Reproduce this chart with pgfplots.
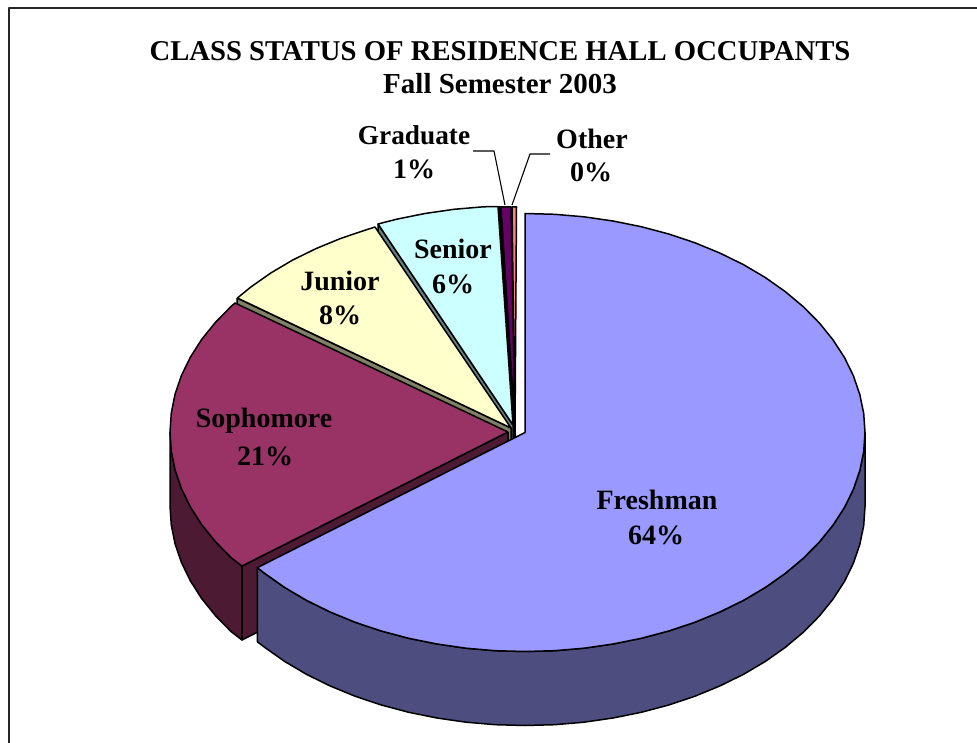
\documentclass[border=0pt]{standalone}
\usepackage{pgfplots}
\pgfplotsset{compat=1.18}
\usepackage{fontspec}
\setmainfont{Liberation Serif}
\definecolor{fresh}{HTML}{9999FF}\definecolor{freshS}{HTML}{4D4D80}
\definecolor{soph}{HTML}{993366}\definecolor{sophS}{HTML}{4D1A33}
\definecolor{jun}{HTML}{FFFFCC}\definecolor{junS}{HTML}{808066}
\definecolor{sen}{HTML}{CCFFFF}\definecolor{senS}{HTML}{668080}
\definecolor{grad}{HTML}{660066}\definecolor{oth}{HTML}{FF8080}
\newcommand{\lab}[1]{\fontsize{28}{32}\selectfont\bfseries #1}
\begin{document}
\begin{tikzpicture}
\begin{axis}[
  scale only axis, width=977pt, height=743pt,
  xmin=0, xmax=977, ymin=0, ymax=743, y dir=reverse,
  axis lines=none, no marks,
  every axis plot/.append style={line width=1.5pt, draw=black, line join=round, solid},
]
\path (axis cs:0,0) -- (axis cs:977,743);
% frame
\addplot[draw=black!85, line width=1.8pt] coordinates {(9,743)(9,8)(977,8)};
% Other
\addplot[fill=oth] coordinates {(515,430)(512,207)(516.5,207)(515,430)};
% Graduate side and top
\addplot[fill=black] coordinates {(498,207)(501,207)(515,426)(515.5,441)(511,441)(498,207)};
\addplot[fill=grad] coordinates {(515,428)(501,207)(506,207)(511,207)(515,428)};
% Senior
\addplot[fill=senS] coordinates {(378,224)(513,425)(513,499)(378,298)(378,224)};
\addplot[fill=sen] coordinates {(513,425)(378,224)(396.7,219.2)(425,213.5)(454,209.3)(483.4,206.8)(498,206.5)(513,425)};
% Junior
\addplot[fill=junS] coordinates {(237,298)(511,428)(511,502)(237,372)(237,298)};
\addplot[fill=jun] coordinates {(511,428)(375,227)(367.3,229.5)(341,238.3)(316,248.6)(292.4,260.2)(270.6,273.1)(250.6,287.2)(237.4,298)(511,428)};
% Sophomore
\addplot[fill=sophS] coordinates {(170,432)(171.3,451.1)(175.1,470)(181.5,488.7)(190.4,506.9)(201.7,524.6)(215.3,541.5)(231.1,557.6)(242,566)(242,640)(231.1,631.6)(215.3,615.5)(201.7,598.6)(190.4,580.9)(181.5,562.7)(175.1,544)(171.3,525.1)(170,506)(170,432)};
\addplot[fill=sophS] coordinates {(508,432)(242,566)(242,640)(508,506)(508,432)};
\addplot[fill=soph] coordinates {(508,432)(235,303)(231.1,306.4)(215.3,322.5)(201.7,339.4)(190.4,357.1)(181.5,375.3)(175.1,394)(171.3,412.9)(170,432)(171.3,451.1)(175.1,470)(181.5,488.7)(190.4,506.9)(201.7,524.6)(215.3,541.5)(231.1,557.6)(242,566)(508,432)};
% Freshman
\addplot[fill=freshS] coordinates {(865,432.5)(863.7,451.6)(859.8,470.5)(853.4,489.2)(844.5,507.4)(833.1,525)(819.4,542)(803.5,558.1)(785.4,573.3)(765.4,587.4)(743.6,600.3)(720,611.9)(695,622.2)(668.7,631)(641.3,638.3)(613,644)(584,648.2)(554.6,650.7)(525,651.5)(495.4,650.7)(466,648.2)(437,644)(408.7,638.3)(381.3,631)(355,622.2)(330,611.9)(306.4,600.3)(284.6,587.4)(264.6,573.3)(257.3,567.7)(257.3,641.7)(264.6,647.3)(284.6,661.4)(306.4,674.3)(330,685.9)(355,696.2)(381.3,705)(408.7,712.3)(437,718)(466,722.2)(495.4,724.7)(525,725.5)(554.6,724.7)(584,722.2)(613,718)(641.3,712.3)(668.7,705)(695,696.2)(720,685.9)(743.6,674.3)(765.4,661.4)(785.4,647.3)(803.5,632.1)(819.4,616)(833.1,599)(844.5,581.4)(853.4,563.2)(859.8,544.5)(863.7,525.6)(865,506.5)(865,432.5)};
\addplot[fill=fresh] coordinates {(525,432.5)(525,213.5)(554.6,214.3)(584,216.8)(613,221)(641.3,226.7)(668.7,234)(695,242.8)(720,253.1)(743.6,264.7)(765.4,277.6)(785.4,291.7)(803.5,306.9)(819.4,323)(833.1,340)(844.5,357.6)(853.4,375.8)(859.8,394.5)(863.7,413.4)(865,432.5)(863.7,451.6)(859.8,470.5)(853.4,489.2)(844.5,507.4)(833.1,525)(819.4,542)(803.5,558.1)(785.4,573.3)(765.4,587.4)(743.6,600.3)(720,611.9)(695,622.2)(668.7,631)(641.3,638.3)(613,644)(584,648.2)(554.6,650.7)(525,651.5)(495.4,650.7)(466,648.2)(437,644)(408.7,638.3)(381.3,631)(355,622.2)(330,611.9)(306.4,600.3)(284.6,587.4)(264.6,573.3)(257.3,567.7)(525,432.5)};
% leader lines
\addplot[line width=1.1pt] coordinates {(473,151)(494,151)(505,205)};
\addplot[line width=1.1pt] coordinates {(550,154)(530,154)(512,205)};
% text
\node[align=center,font=\fontsize{28.7}{33}\selectfont\bfseries] at (axis cs:500,51) {CLASS STATUS OF RESIDENCE HALL OCCUPANTS};
\node[align=center,font=\fontsize{29}{33}\selectfont\bfseries] at (axis cs:500,84) {Fall Semester 2003};
\node at (axis cs:414,135) {\fontsize{27.3}{32}\selectfont\bfseries Graduate};
\node at (axis cs:414,169) {\lab{1\%}};
\node at (axis cs:592,139) {\lab{Other}};
\node at (axis cs:591,172) {\lab{0\%}};
\node at (axis cs:453,249) {\lab{Senior}};
\node at (axis cs:453,284) {\lab{6\%}};
\node at (axis cs:340,281) {\lab{Junior}};
\node at (axis cs:340,315) {\lab{8\%}};
\node at (axis cs:264,421) {\lab{Sophomore}};
\node at (axis cs:265,456) {\lab{21\%}};
\node at (axis cs:657,500) {\lab{Freshman}};
\node at (axis cs:656,535) {\lab{64\%}};
\end{axis}
\end{tikzpicture}
\end{document}
